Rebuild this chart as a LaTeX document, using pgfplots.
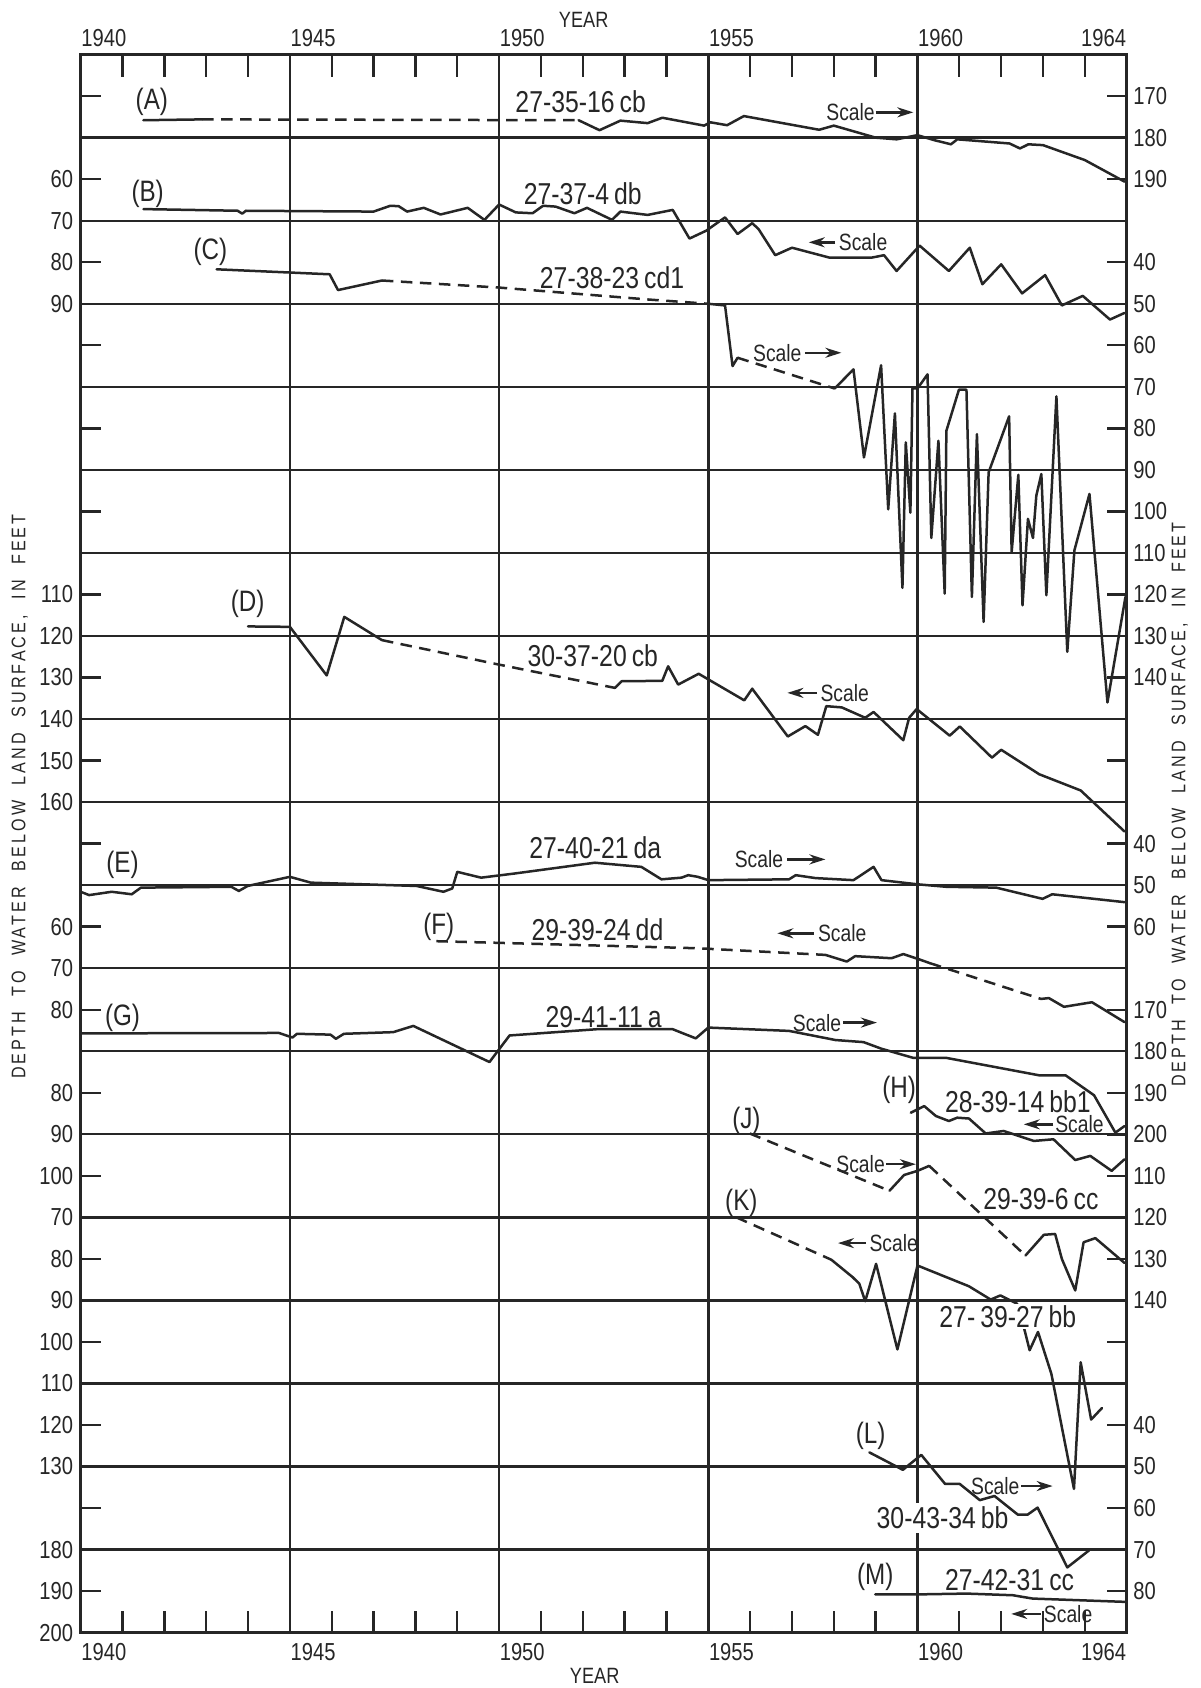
\documentclass[border=0pt]{standalone}
\usepackage{pgfplots}
\pgfplotsset{compat=1.18}
\usepackage{fontspec}
\setmainfont{Liberation Sans}[FakeStretch=0.82]
\usetikzlibrary{arrows.meta}
\definecolor{ink}{RGB}{38,38,38}
\newcommand{\tickfont}{\fontsize{7}{8}\selectfont}
\tikzset{
  wl/.style={font=\fontsize{8.6}{10}\selectfont, text=ink, inner sep=0.3pt},
  pl/.style={font=\fontsize{8.4}{10}\selectfont, text=ink, inner sep=0pt},
  scl/.style={font=\fontsize{6.7}{8}\selectfont, text=ink, inner sep=0pt},
  arr/.style={draw=ink, line width=0.25mm, -{Stealth[length=1.6mm, width=1.0mm]}},
}
\pgfplotsset{
  dat/.style={line width=0.25mm, draw=ink, no markers, line join=round, line cap=round},
  dsh/.style={dat, dash pattern=on 1.15mm off 0.75mm, line cap=butt},
  offA/.style={y filter/.expression={y-160}},
  offB/.style={y filter/.expression={y-30}},
  offC/.style={y filter/.expression={y+10}},
  offD/.style={y filter/.expression={y+20}},
  offE/.style={y filter/.expression={y+150}},
  offF/.style={y filter/.expression={y+150}},
  offG/.style={y filter/.expression={y+60}},
  offH/.style={y filter/.expression={y+170}},
  offJ/.style={y filter/.expression={y+160}},
  offK/.style={y filter/.expression={y+210}},
  offL/.style={y filter/.expression={y+290}},
  offM/.style={y filter/.expression={y+180}},
  frame/.style={
    at={(0,0)}, anchor=south west,
    scale only axis, width=104.6mm, height=157.8mm,
    xmin=1940, xmax=1965, ymin=0, ymax=380, y dir=reverse,
    axis line style={line width=0.28mm, draw=ink},
    every tick/.style={line width=0.24mm, draw=ink},
    major tick length=2mm, minor tick length=2.2mm,
  },
}
% "Scale ->" : text centre x, Y, arrow x1, arrow x2
\newcommand{\scR}[4]{\node[scl] at (axis cs:#1,#2) {Scale};
  \draw[arr] (axis cs:#3,#2) -- (axis cs:#4,#2);}
% "<- Scale" : text centre x, Y, arrow x1 (tip), arrow x2
\newcommand{\scL}[4]{\node[scl] at (axis cs:#1,#2) {Scale};
  \draw[arr] (axis cs:#4,#2) -- (axis cs:#3,#2);}
\begin{document}
\begin{tikzpicture}
\begin{axis}[frame, clip=false,
  xtick={1940,1945,1950,1955,1960},
  xticklabels={1940,1945,1950,1955,1960},
  minor xtick={1941,1942,...,1964},
  xtick pos=both, xticklabel pos=left,
  xticklabel style={anchor=north west, font=\tickfont, text=ink, inner sep=0pt, yshift=-1mm},
  extra x ticks={1965}, extra x tick labels={1964},
  extra x tick style={xticklabel style={anchor=north east}},
  xmajorgrids,
  major grid style={line width=0.24mm, draw=ink},
  ytick={10,30,40,50,60,70,90,110,130,140,150,160,170,180,190,210,220,230,250,260,270,280,290,300,310,320,330,340,350,360,370,380},
  yticklabels={{},60,70,80,90,{},{},{},110,120,130,140,150,160,{},60,70,80,80,90,100,70,80,90,100,110,120,130,{},180,190,200},
  ytick pos=left,
  yticklabel style={font=\tickfont, text=ink, inner sep=0pt, xshift=-0.7mm},
  extra y ticks={20,40,...,360}, extra y tick labels={},
  extra y tick style={ymajorgrids=true, major tick length=0pt},
]
% ---------- (A) 27-35-16cb, right scale
\addplot[dat, offA] coordinates {(1941.5,175.8) (1942.9,175.6)};
\addplot[dsh, offA] coordinates {(1942.9,175.6) (1951.9,175.8)};
\addplot[dat, offA] coordinates {(1951.9,175.8) (1952.4,178.2) (1952.9,175.9) (1953.55,176.5) (1953.9,175.2) (1954.9,177.1) (1955.05,176.3) (1955.45,177.0) (1955.85,174.8) (1957.65,178.1) (1958.0,177.1) (1959.0,180.0) (1959.5,180.4) (1960.0,179.4) (1960.4,180.6) (1960.8,181.6) (1960.95,180.4) (1962.2,181.4) (1962.45,182.6) (1962.65,181.6) (1963.0,181.8) (1964.0,185.4) (1964.95,190.6)};
% ---------- (B) 27-37-4db, left scale
\addplot[dat, offB] coordinates {(1941.5,67.2) (1943.75,67.6) (1943.86,68.3) (1943.95,67.6) (1947.0,67.8) (1947.4,66.4) (1947.6,66.5) (1947.8,67.8) (1948.2,66.9) (1948.6,68.5) (1949.25,66.9) (1949.65,69.8) (1950.0,66.1) (1950.4,68.0) (1950.8,68.2) (1951.05,66.4) (1951.35,66.6) (1951.8,68.2) (1952.1,66.9) (1952.7,69.8) (1952.9,67.8) (1953.55,68.6) (1954.15,67.4) (1954.55,74.3) (1954.95,72.4) (1955.4,69.2) (1955.7,73.2) (1956.05,70.6) (1956.2,72.0) (1956.6,78.3) (1957.0,76.5) (1957.9,78.9) (1958.9,78.9) (1959.2,78.3) (1959.5,82.1) (1960.05,76.0) (1960.75,82.1) (1961.25,76.5) (1961.55,85.3) (1962.0,80.5) (1962.5,87.5) (1963.05,83.1) (1963.45,90.4) (1963.95,88.1) (1964.6,93.8) (1964.95,92.2)};
% ---------- (C) 27-38-23cd1, right scale
\addplot[dat, offC] coordinates {(1943.25,41.7) (1945.95,42.9) (1946.15,46.7) (1947.2,44.4)};
\addplot[dsh, offC] coordinates {(1947.2,44.4) (1950.0,46.1) (1953.6,49.0) (1955.0,50.0)};
\addplot[dat, offC] coordinates {(1955.0,50.0) (1955.4,50.4) (1955.58,65.0) (1955.7,63.0)};
\addplot[dsh, offC] coordinates {(1955.7,63.0) (1958.02,70.4)};
\addplot[dat, offC] coordinates {(1958.02,70.4) (1958.47,65.8) (1958.72,87.0) (1959.13,64.8) (1959.3,99.5) (1959.46,76.4) (1959.64,118.4) (1959.72,83.4) (1959.83,100.3) (1959.88,70.4) (1960.0,70.4) (1960.24,67.0) (1960.33,106.4) (1960.5,83.0) (1960.65,119.8) (1960.69,80.6) (1960.99,70.7) (1961.17,70.7) (1961.3,120.6) (1961.42,81.4) (1961.58,126.6) (1961.7,90.6) (1962.19,77.1) (1962.25,109.8) (1962.41,91.2) (1962.51,122.6) (1962.64,101.8) (1962.76,106.4) (1962.84,96.2) (1962.96,91.0) (1963.08,120.2) (1963.32,72.3) (1963.58,133.8) (1963.75,109.4) (1964.11,95.8) (1964.54,146.0) (1964.97,120.6)};
% ---------- (D) 30-37-20cb, left scale
\addplot[dat, offD] coordinates {(1944.0,117.7) (1945.0,117.8) (1945.88,129.5) (1946.3,115.4) (1947.2,121.0)};
\addplot[dsh, offD] coordinates {(1947.2,121.0) (1950.0,126.9) (1952.77,132.5)};
\addplot[dat, offD] coordinates {(1952.77,132.5) (1952.93,130.9) (1953.9,130.8) (1954.04,127.3) (1954.28,131.7) (1954.77,129.1) (1955.86,135.5) (1956.05,132.7) (1956.9,144.2) (1957.32,141.7) (1957.62,143.8) (1957.82,136.9) (1958.19,137.2) (1958.75,139.7) (1958.95,138.3) (1959.66,145.1) (1959.8,139.7) (1959.98,137.6) (1960.77,144.0) (1961.01,141.8) (1961.78,149.3) (1962.0,147.4) (1962.91,153.3) (1963.9,157.2) (1964.95,167.1)};
% ---------- (E) 27-40-21da, right scale
\addplot[dat, offE] coordinates {(1940.0,51.6) (1940.2,52.4) (1940.74,51.6) (1941.22,52.2) (1941.44,50.6) (1943.6,50.4) (1943.78,51.4) (1943.99,50.2) (1945.0,48.0) (1945.5,49.4) (1948.03,50.2) (1948.67,51.6) (1948.88,50.8) (1949.0,46.8) (1949.57,48.2) (1950.37,47.2) (1952.29,44.6) (1953.4,45.6) (1953.88,48.6) (1954.36,48.2) (1954.52,47.6) (1954.75,48.0) (1955.0,48.8) (1956.93,48.6) (1957.09,47.6) (1957.56,48.3) (1958.47,48.8) (1958.95,45.6) (1959.14,48.8) (1960.0,49.8) (1960.69,50.4) (1961.88,50.6) (1962.99,53.3) (1963.22,52.2) (1964.95,54.1)};
% ---------- (F) 29-39-24dd, left scale
\addplot[dsh, offF] coordinates {(1948.5,63.5) (1950.0,63.9) (1954.75,65.2) (1957.8,66.8)};
\addplot[dat, offF] coordinates {(1957.8,66.8) (1958.31,68.4) (1958.51,67.1) (1959.38,67.6) (1959.66,66.6) (1960.02,67.8) (1960.3,68.8)};
\addplot[dsh, offF] coordinates {(1960.3,68.8) (1962.95,77.4)};
\addplot[dat, offF] coordinates {(1962.95,77.4) (1963.14,77.2) (1963.5,79.3) (1964.17,78.2) (1964.95,83.0)};
% ---------- (G) 29-41-11a, right scale
\addplot[dat, offG] coordinates {(1940.0,175.7) (1944.74,175.6) (1945.06,176.7) (1945.17,175.8) (1945.97,176.0) (1946.1,177.0) (1946.29,175.8) (1947.47,175.4) (1947.95,173.9) (1949.77,182.6) (1950.25,176.2) (1952.33,174.7) (1954.15,174.7) (1954.7,176.9) (1955.0,174.3) (1956.93,175.1) (1958.04,177.3) (1958.71,177.8) (1959.14,179.4) (1959.9,181.6) (1960.69,181.6) (1962.91,185.8) (1963.54,185.8) (1964.22,190.6) (1964.73,199.6) (1964.95,198.0)};
% ---------- (H) 28-39-14bb1, left scale
\addplot[dat, offH] coordinates {(1959.84,84.8) (1960.0,84.0) (1960.16,83.2) (1960.44,85.6) (1960.75,86.8) (1960.95,86.0) (1961.23,86.2) (1961.63,89.8) (1962.06,89.2) (1962.78,91.6) (1963.25,91.2) (1963.77,96.2) (1964.13,95.2) (1964.64,98.8) (1964.95,96.0)};
% ---------- (J) 29-39-6cc, right scale
\addplot[dsh, offJ] coordinates {(1955.99,99.8) (1959.33,113.6)};
\addplot[dat, offJ] coordinates {(1959.33,113.6) (1959.68,109.8) (1960.0,108.8) (1960.28,107.6)};
\addplot[dsh, offJ] coordinates {(1960.28,107.6) (1962.58,129.2)};
\addplot[dat, offJ] coordinates {(1962.58,129.2) (1963.02,124.2) (1963.29,124.0) (1963.45,130.0) (1963.77,137.6) (1963.97,126.0) (1964.25,125.0) (1964.95,131.0)};
% ---------- (K) 27-39-27bb, left scale
\addplot[dsh, offK] coordinates {(1955.67,70.0) (1957.94,80.2)};
\addplot[dat, offK] coordinates {(1957.94,80.2) (1958.45,84.4) (1958.61,86.0) (1958.75,90.2) (1959.01,81.2) (1959.52,101.8) (1960.0,81.6) (1961.23,86.6) (1961.75,89.8) (1961.98,88.8) (1962.38,90.8) (1962.56,97.2) (1962.68,102.0) (1962.88,97.6) (1963.2,107.7) (1963.74,135.4) (1963.9,104.9) (1964.15,118.7) (1964.41,115.9)};
\node[wl, fill=white] at (axis cs:1962.16,303.9) {27-\,39-27\,bb};
% ---------- (L) 30-43-34bb, right scale
\node[wl, fill=white, inner ysep=1.2pt] at (axis cs:1960.6,352.4) {30-43-34\,bb};
\addplot[dat, offL] coordinates {(1958.85,46.6) (1959.65,50.8) (1960.09,47.2) (1960.66,54.2) (1961.01,54.2) (1961.49,58.1) (1961.84,57.1) (1962.4,61.6) (1962.63,61.6) (1962.87,59.9) (1963.58,74.3) (1964.1,70.2)};
% ---------- (M) 27-42-31cc, left scale
\addplot[dat, offM] coordinates {(1958.99,190.8) (1960.0,190.8) (1961.17,190.6) (1962.28,191.0) (1962.75,191.8) (1964.97,192.6)};
% ---------- labels
\node[pl] at (axis cs:1941.7,11.4) {(A)};
\node[wl] at (axis cs:1951.95,11.4) {27-35-16\,cb};
\scR{1958.4}{13.9}{1959.0}{1959.9}
\node[pl] at (axis cs:1941.6,33.5) {(B)};
\node[wl] at (axis cs:1952.0,33.5) {27-37-4\,db};
\scL{1958.7}{45.2}{1957.4}{1958.03}
\node[pl] at (axis cs:1943.1,47.5) {(C)};
\node[wl] at (axis cs:1952.7,53.7) {27-38-23\,cd1};
\scR{1956.65}{71.8}{1957.31}{1958.18}
\node[pl] at (axis cs:1943.99,132.2) {(D)};
\node[wl] at (axis cs:1952.24,144.7) {30-37-20\,cb};
\scL{1958.26}{153.7}{1956.89}{1957.6}
\node[pl] at (axis cs:1941.0,195.2) {(E)};
\node[wl] at (axis cs:1952.3,191.0) {27-40-21\,da};
\scR{1956.21}{193.8}{1956.89}{1957.8}
\node[pl] at (axis cs:1948.56,210.0) {(F)};
\node[wl] at (axis cs:1952.35,210.8) {29-39-24\,dd};
\scL{1958.2}{211.6}{1956.65}{1957.52}
\node[pl] at (axis cs:1941.0,232.0) {(G)};
\node[wl] at (axis cs:1952.5,231.8) {29-41-11\,a};
\scR{1957.6}{233.1}{1958.23}{1959.03}
\node[pl] at (axis cs:1959.56,249.2) {(H)};
\node[wl] at (axis cs:1962.4,252.2) {28-39-14\,bb1};
\scL{1963.87}{257.6}{1962.54}{1963.25}
\node[pl] at (axis cs:1955.91,256.8) {(J)};
\scR{1958.64}{267.2}{1959.25}{1959.96}
\node[wl] at (axis cs:1962.95,275.6) {29-39-6\,cc};
\node[pl] at (axis cs:1955.79,276.4) {(K)};
\scL{1959.43}{286.2}{1958.1}{1958.77}
\node[pl] at (axis cs:1958.88,332.5) {(L)};
\scR{1961.86}{344.7}{1962.48}{1963.23}
\node[pl] at (axis cs:1958.99,366.5) {(M)};
\node[wl] at (axis cs:1962.2,367.3) {27-42-31\,cc};
\scL{1963.6}{375.5}{1962.24}{1962.95}
\end{axis}
\begin{axis}[frame,
  xtick={1940,1945,1950,1955,1960},
  xticklabels={1940,1945,1950,1955,1960},
  xtick pos=right, xticklabel pos=right,
  xticklabel style={anchor=south west, font=\tickfont, text=ink, inner sep=0pt, yshift=0.7mm},
  extra x ticks={1965}, extra x tick labels={1964},
  extra x tick style={xticklabel style={anchor=south east}},
  ytick={10,20,30,50,60,70,80,90,100,110,120,130,140,150,170,190,200,210,230,240,250,260,270,280,290,300,310,330,340,350,360,370},
  yticklabels={170,180,190,40,50,60,70,80,90,100,110,120,130,140,{},40,50,60,170,180,190,200,110,120,130,140,{},40,50,60,70,80},
  ytick pos=right, yticklabel pos=right,
  yticklabel style={anchor=west, font=\tickfont, text=ink, inner sep=0pt, xshift=0.6mm},
]
\end{axis}
\node[font=\fontsize{6.3}{7}\selectfont, text=ink] at (50.3mm,161.3mm) {YEAR};
\node[font=\fontsize{6.3}{7}\selectfont, text=ink] at (51.4mm,-4.3mm) {YEAR};
\node[rotate=90, font=\fontsize{5.6}{7}\selectfont\addfontfeatures{LetterSpace=16}, text=ink] at (-6.1mm,83.6mm) {DEPTH \ TO \ WATER \ BELOW \ LAND \ SURFACE, \ IN \ FEET};
\node[rotate=90, font=\fontsize{5.6}{7}\selectfont\addfontfeatures{LetterSpace=16}, text=ink] at (109.9mm,82.8mm) {DEPTH \ TO \ WATER \ BELOW \ LAND \ SURFACE, \ IN \ FEET};
\pgfresetboundingbox
\useasboundingbox (-8.07mm,-5.54mm) rectangle (112.03mm,163.26mm);
\end{tikzpicture}
\end{document}
